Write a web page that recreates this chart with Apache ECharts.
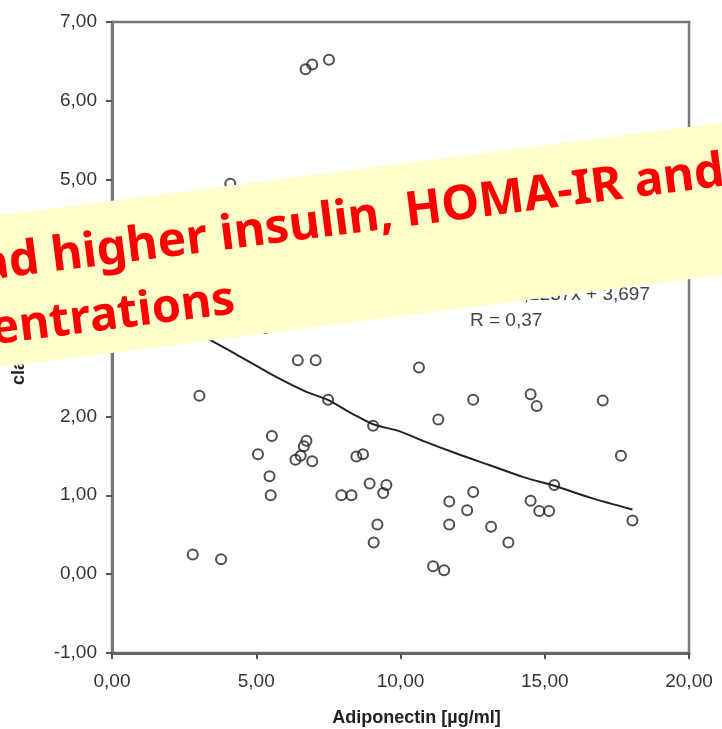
<!DOCTYPE html>
<html>
<head>
<meta charset="utf-8">
<script src="https://cdn.jsdelivr.net/npm/echarts@6/dist/echarts.min.js"></script>
<style>
html,body{margin:0;padding:0;background:#fff;}
#chart{width:722px;height:729px;}
</style>
</head>
<body>
<div id="chart"></div>
<script>
// ---- data ----
const adiponectin = [2.80, 3.78, 3.03, 4.10, 5.32, 5.06, 5.54, 5.46, 5.50, 6.44, 7.06, 6.36, 6.54, 6.65, 6.74, 6.94, 7.49, 6.71, 6.94, 7.52,
  7.95, 8.30, 8.47, 8.70, 8.93, 9.05, 9.07, 9.20, 9.40, 9.51, 10.64, 11.13, 11.51, 11.31, 11.69, 11.69, 12.31, 12.52, 12.52, 13.14,
  13.74, 14.51, 14.72, 14.51, 14.81, 15.15, 15.33, 17.01, 17.64, 18.04];
const yValues = [0.25, 0.19, 2.26, 4.95, 3.12, 1.52, 1.75, 1.24, 1.00, 2.71, 2.71, 1.45, 1.50, 1.62, 1.69, 1.43, 2.21, 6.40, 6.46, 6.52,
  1.00, 1.00, 1.49, 1.52, 1.15, 1.88, 0.40, 0.63, 1.03, 1.13, 2.62, 0.10, 0.05, 1.96, 0.92, 0.63, 0.81, 2.21, 1.04, 0.60,
  0.40, 2.28, 2.13, 0.93, 0.80, 0.80, 1.13, 2.20, 1.50, 0.68];
const trendX = [2.8, 3.49, 4.53, 5.69, 6.74, 7.48, 8.35, 9.05, 9.98, 10.78, 11.94, 13.10, 14.26, 15.33, 16.57, 18.04];
const trendY = [3.08, 2.95, 2.74, 2.50, 2.31, 2.21, 2.03, 1.90, 1.81, 1.69, 1.53, 1.38, 1.23, 1.12, 0.97, 0.82];
const xTitle = 'Adiponectin [µg/ml]';
const yTitle = 'clamp insulin';
const equationText = 'y = 0,0036x² - 0,2237x + 3,697';
const rText = 'R = 0,37';
const bannerLine1 = 'had higher insulin, HOMA-IR and';
const bannerLine2 = 'concentrations';

const scatterData = adiponectin.map((x, i) => [x, yValues[i]]);
const trendData = trendX.map((x, i) => [x, trendY[i]]);
const fmt = v => v.toFixed(2).replace('.', ',');

const chart = echarts.init(document.getElementById('chart'), null, {renderer: 'canvas'});
chart.setOption({
  animation: false,
  backgroundColor: '#fff',
  grid: {left: 112, right: 33, top: 22, bottom: 76, containLabel: false, outerBoundsMode: 'none',
         show: true, borderColor: '#777', borderWidth: 2.5, backgroundColor: 'transparent'},
  xAxis: {
    type: 'value', min: 0, max: 20, interval: 5,
    name: xTitle, nameLocation: 'middle', nameGap: 56,
    nameTextStyle: {fontFamily: 'Liberation Sans', fontWeight: 'bold', fontSize: 18, color: '#222', padding: [0, 0, 0, 32]},
    axisLine: {show: true, onZero: false, lineStyle: {color: '#666', width: 3}},
    axisTick: {show: true, inside: false, length: 6, lineStyle: {color: '#555', width: 2}},
    axisLabel: {formatter: fmt, fontFamily: 'Liberation Sans', fontSize: 19, color: '#333', margin: 19},
    splitLine: {show: false}
  },
  yAxis: {
    type: 'value', min: -1, max: 7, interval: 1,
    name: yTitle, nameLocation: 'middle', nameGap: 84, nameRotate: 90,
    nameTextStyle: {fontFamily: 'Liberation Sans', fontWeight: 'bold', fontSize: 18, color: '#222', padding: [0, 0, 0, 20]},
    axisLine: {show: true, onZero: false, lineStyle: {color: '#777', width: 3}},
    axisTick: {show: true, inside: false, length: 6, lineStyle: {color: '#555', width: 2}},
    axisLabel: {formatter: fmt, fontFamily: 'Liberation Sans', fontSize: 19, color: '#333', margin: 15},
    splitLine: {show: false}
  },
  series: [
    {
      type: 'line', data: trendData, smooth: 0.3, showSymbol: false, symbol: 'none',
      lineStyle: {color: '#222', width: 2}, z: 2
    },
    {
      type: 'scatter', data: scatterData, symbol: 'circle', symbolSize: 10,
      itemStyle: {color: 'rgba(255,255,255,0)', borderColor: '#222', borderWidth: 2}, z: 3
    }
  ],
  graphic: [
    {type: 'text', x: 650, y: 295, z: 5,
     style: {text: equationText, font: '19px "Liberation Sans"', fill: '#444', textAlign: 'right', align: 'right', textVerticalAlign: 'middle', verticalAlign: 'middle'}},
    {type: 'text', x: 470, y: 321, z: 5,
     style: {text: rText, font: '19px "Liberation Sans"', fill: '#444', textAlign: 'left', align: 'left', textVerticalAlign: 'middle', verticalAlign: 'middle'}},
    {
      type: 'group', x: 0, y: 215, rotation: 0.127, z: 100,
      children: [
        {type: 'rect', shape: {x: -120, y: 0, width: 1000, height: 151}, style: {fill: '#FFFFCC'}, z: 100},
        {type: 'text', x: -57, y: 49, z: 101,
         style: {text: bannerLine1, font: 'bold 48px "Noto Sans"', fill: '#FF0000', textAlign: 'left', align: 'left', textVerticalAlign: 'middle', verticalAlign: 'middle'}},
        {type: 'text', x: 222, y: 114, z: 101,
         style: {text: bannerLine2, font: 'bold 47px "Noto Sans"', fill: '#FF0000', textAlign: 'right', align: 'right', textVerticalAlign: 'middle', verticalAlign: 'middle'}}
      ]
    }
  ]
});
</script>
</body>
</html>
